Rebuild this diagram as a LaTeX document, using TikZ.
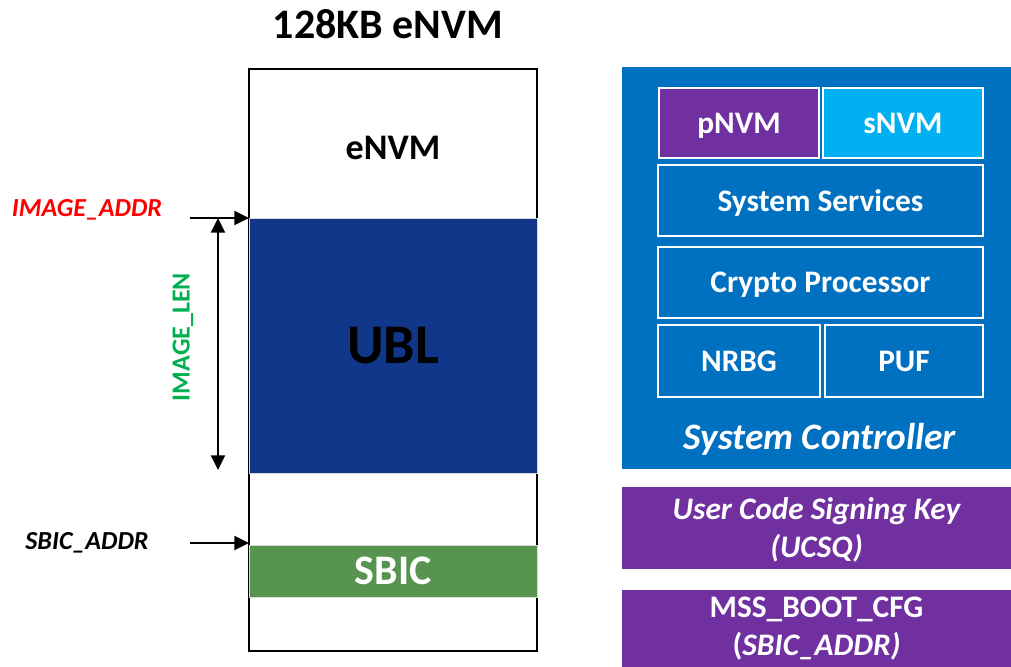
\documentclass[tikz,border=0pt]{standalone}
\usepackage{fontspec}
\setmainfont{Carlito}
\usetikzlibrary{arrows.meta}
\definecolor{ublblue}{HTML}{10378A}
\definecolor{sbicgreen}{HTML}{56944F}
\definecolor{scblue}{HTML}{0070C0}
\definecolor{nvmpurple}{HTML}{7030A0}
\definecolor{nvmcyan}{HTML}{00B0F0}
\definecolor{addrred}{HTML}{FF0000}
\definecolor{lengreen}{HTML}{00B050}
\begin{document}
\begin{tikzpicture}[x=0.75pt,y=-0.75pt,
  % a rectangle node spanning the corners (#1,#2) and (#3,#4)
  span/.style n args={4}{inner sep=0pt, outer sep=0pt,
    minimum width={(#3-#1)*0.75pt}, minimum height={(#4-#2)*0.75pt},
    at={({(#1+#3)/2},{(#2+#4)/2})}},
  memfill/.style={draw=black!15, line width=0.6pt, text=white, font=\bfseries},
  scbox/.style={draw=white, line width=1.6pt, text=white, text depth=0pt,
    font=\bfseries\fontsize{23.5}{28}\selectfont},
  keybox/.style={fill=nvmpurple, text=white, align=center, font=\bfseries\fontsize{23.5}{28.5}\selectfont},
  arr/.style={line width=1.7pt, -{Triangle[length=11pt,width=10.5pt]}},
  dblarr/.style={line width=1.7pt, {Triangle[length=11pt,width=10.5pt]}-{Triangle[length=11pt,width=10.5pt]}},
  lbl/.style={font=\bfseries\itshape\fontsize{19.5}{22}\selectfont}]
\useasboundingbox (0,0) rectangle (1011,667);

% ---- memory map ----
\node[font=\bfseries\fontsize{31.5}{36}\selectfont] (title) at (388,24) {128KB eNVM};
\node[span={249}{69}{537}{651}, draw=black, line width=1.8pt] (mem) {};
\node[font=\bfseries\fontsize{27}{32}\selectfont] (envm) at (393,148) {eNVM};
\node[span={249}{218}{537}{473}, memfill, fill=ublblue, text=black,
      font=\bfseries\fontsize{42}{48}\selectfont] (ubl) {UBL};
\node[span={249}{545}{537}{597}, memfill, fill=sbicgreen,
      font=\bfseries\fontsize{31.5}{36}\selectfont] (sbic) {SBIC};

% ---- address labels and pointers ----
\node[lbl, text=addrred] (imgaddr) at (87,210) {IMAGE\_ADDR};
\node[lbl] (sbicaddr) at (87,543) {SBIC\_ADDR};
\node[font=\bfseries\fontsize{19.5}{22}\selectfont, text=lengreen, rotate=90] (imglen) at (183,337) {IMAGE\_LEN};
\coordinate (ia) at (190,218);
\coordinate (sa) at (190,543);
\coordinate (sahead) at (249,543);
\coordinate (lt) at (218,218);
\coordinate (lb) at (218,470);
\draw[arr] (ia) -- (ubl.north west);
\draw[arr] (sa) -- (sahead);
\draw[dblarr] (lt) -- (lb);

% ---- system controller ----
\node[span={622}{67}{1011}{469}, fill=scblue] (sc) {};
\node[span={659}{88}{819}{158}, scbox, fill=nvmpurple] (pnvm) {pNVM};
\node[span={823}{88}{983}{158}, scbox, fill=nvmcyan] (snvm) {sNVM};
\node[span={658}{165}{983}{236}, scbox] (svc) {System Services};
\node[span={658}{247}{983}{318}, scbox] (crypto) {Crypto Processor};
\node[span={658}{325}{820}{397}, scbox] (nrbg) {NRBG};
\node[span={825}{325}{983}{397}, scbox] (puf) {PUF};
\node[text=white, font=\bfseries\itshape\fontsize{28}{32}\selectfont] (sclabel) at (820,439) {System Controller};

% ---- key and boot configuration ----
\node[span={622}{487}{1011}{569}, keybox, text depth=0pt] (ucsq) {\itshape User Code Signing Key\\\itshape (UCSQ)};
\node[span={622}{590}{1011}{667}, keybox] (boot) {MSS\_BOOT\_CFG\\(\textit{SBIC\_ADDR)}};
\end{tikzpicture}
\end{document}
